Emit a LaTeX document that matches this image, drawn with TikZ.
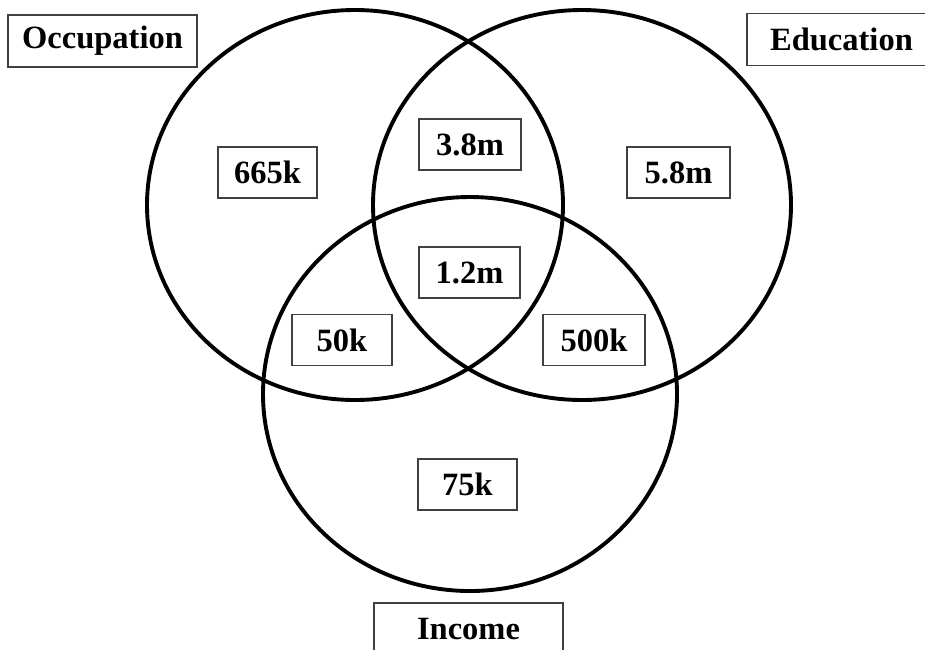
\documentclass[tikz,border=0pt]{standalone}
\usepackage{fontspec}
\setmainfont{Liberation Serif}
\begin{document}
\begin{tikzpicture}[x=1pt,y=-1pt,
  ring/.style={line width=3.9pt, black},
  valbox/.style={draw=black!75, line width=1.3pt, fill=white, minimum width=100pt, minimum height=51pt, inner sep=0pt,
    font=\fontsize{32.5}{38}\selectfont\bfseries},
  titlebox/.style={valbox, minimum width=189pt, minimum height=52pt}]
\useasboundingbox (0,0) rectangle (925,649);
% circles
\coordinate (cO) at (355,205);
\coordinate (cE) at (582,205);
\coordinate (cI) at (470,394);
\draw[ring] (cO) ellipse [x radius=208, y radius=195];
\draw[ring] (cE) ellipse [x radius=209, y radius=195];
\draw[ring] (cI) ellipse [x radius=207, y radius=197];
% titles
\node[titlebox] (occ) at (102.5,41) {Occupation};
\node[titlebox] (edu) at (841.5,39.5) {Education};
\node[titlebox] (inc) at (468.5,629) {Income};
% values
\node[valbox, minimum width=99pt] (v665) at (267.5,172.5) {665k};
\node[valbox, minimum width=102pt] (v38) at (470,144.5) {3.8m};
\node[valbox, minimum width=101pt] (v12) at (469.5,272.5) {1.2m};
\node[valbox, minimum width=103pt] (v58) at (678.5,172.5) {5.8m};
\node[valbox] (v50) at (342,340) {50k};
\node[valbox, minimum width=102pt] (v500) at (594,340) {500k};
\node[valbox, minimum width=99pt] (v75) at (467.5,484.5) {75k};
\end{tikzpicture}
\end{document}
